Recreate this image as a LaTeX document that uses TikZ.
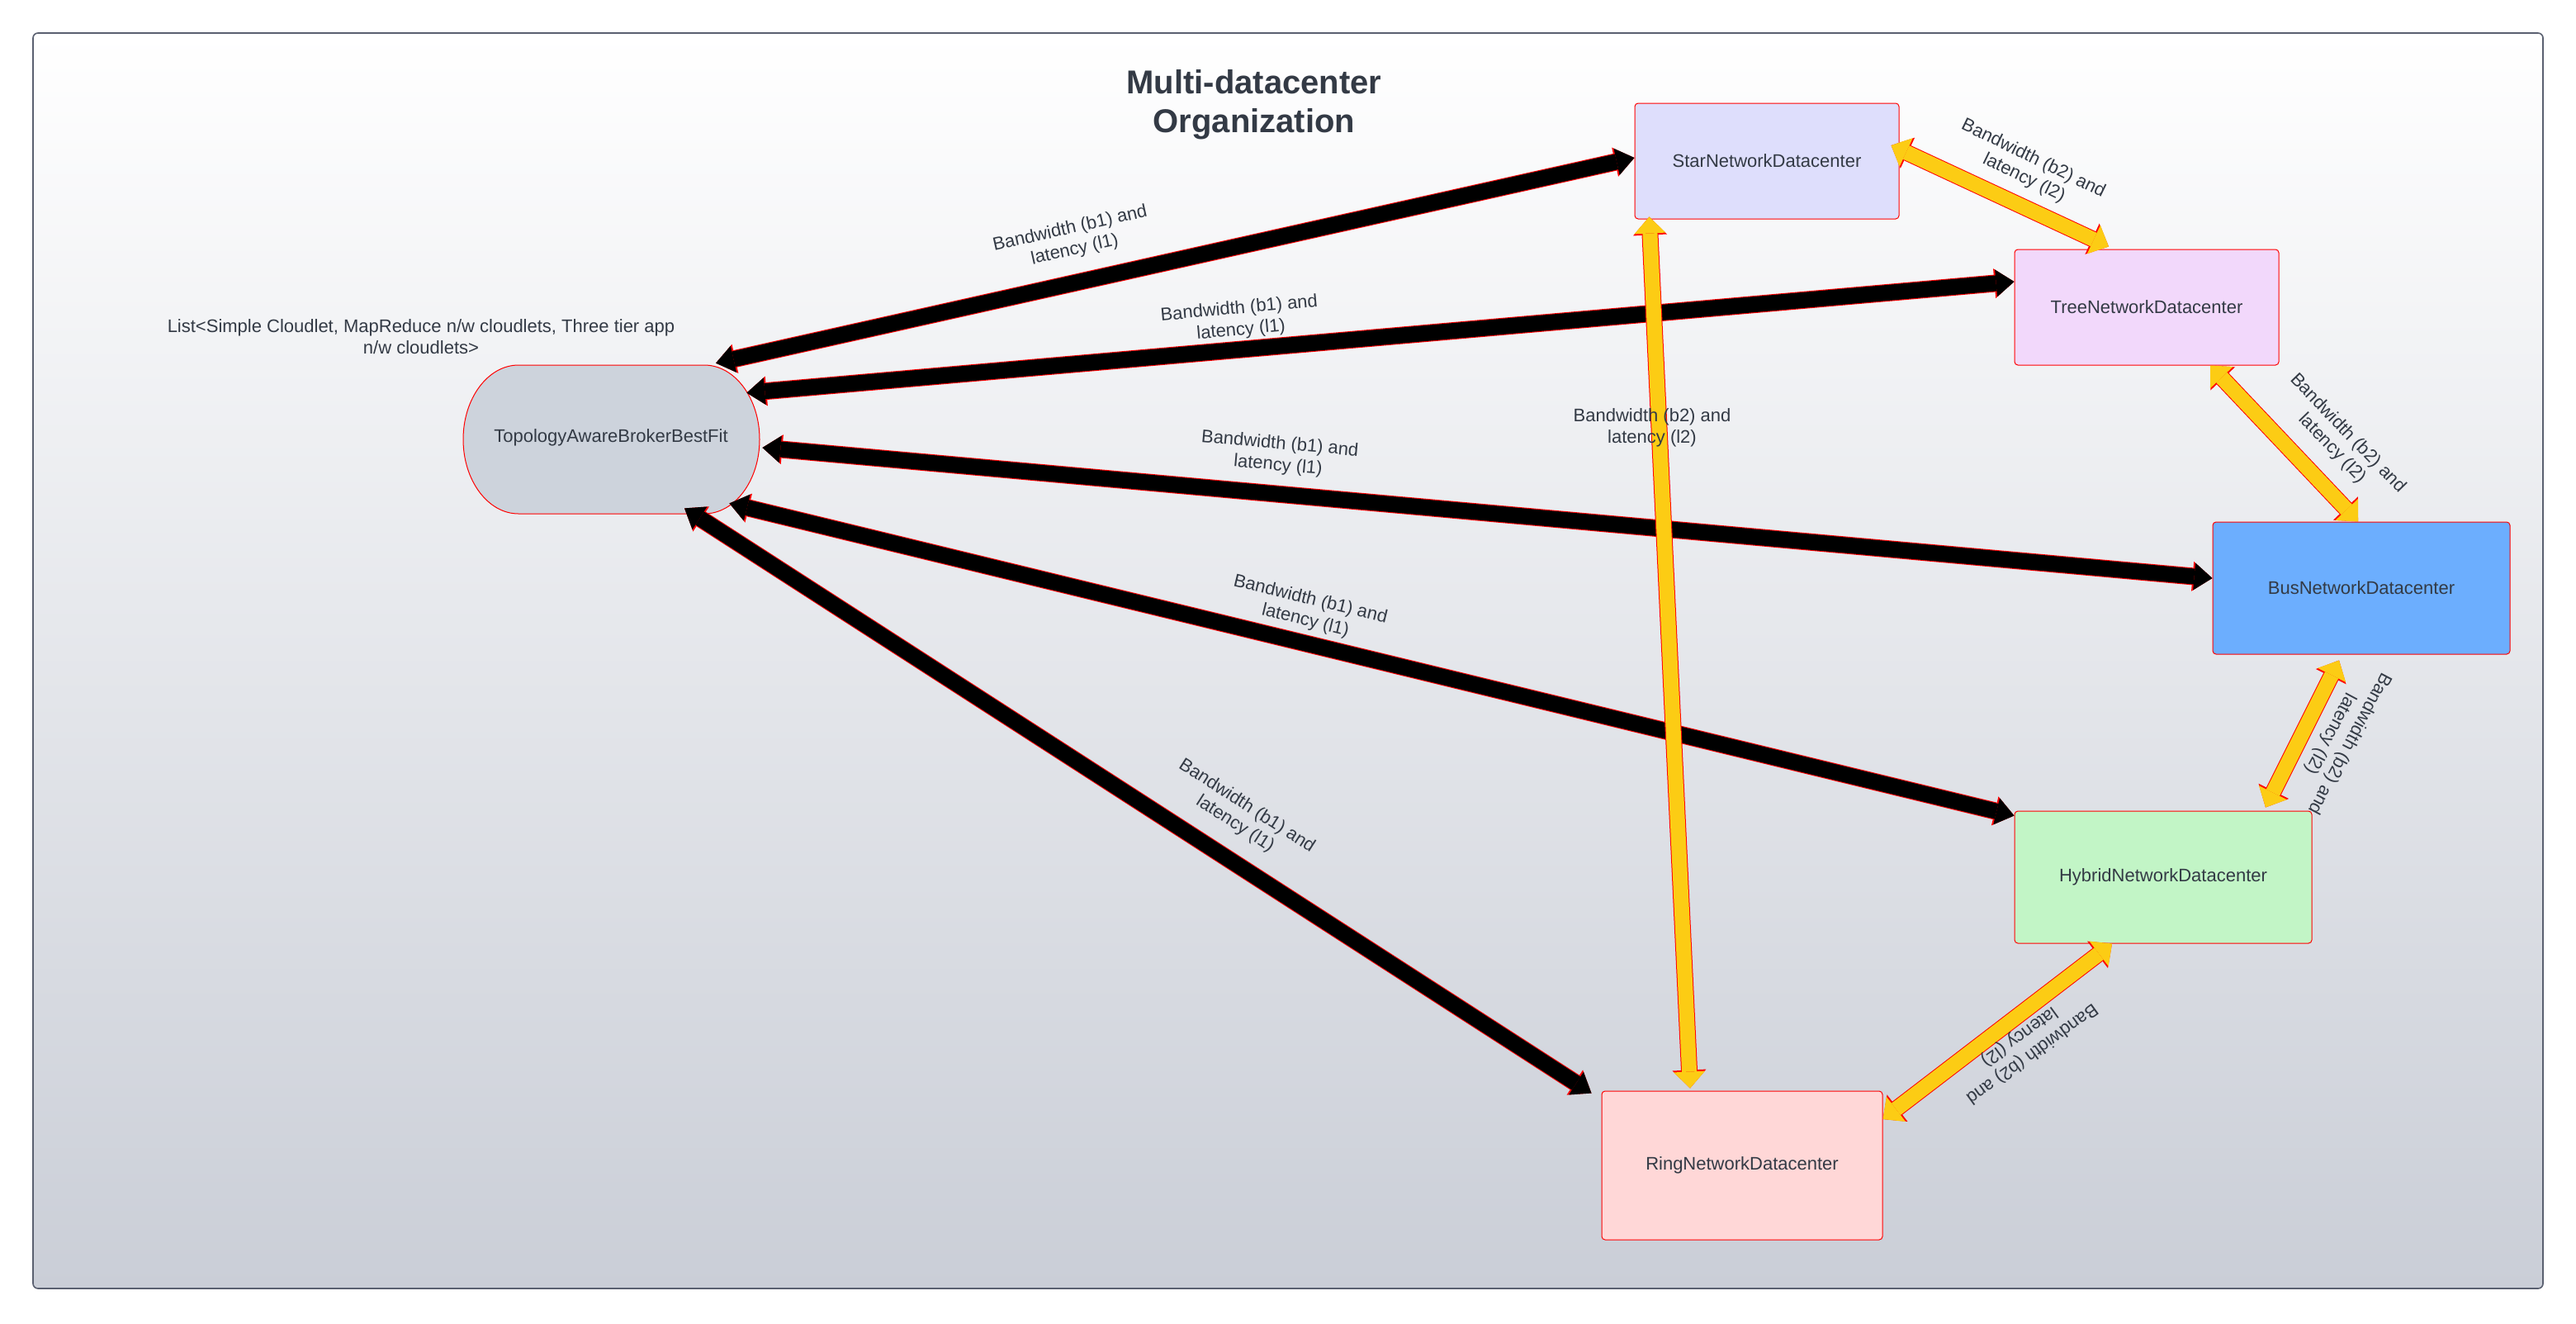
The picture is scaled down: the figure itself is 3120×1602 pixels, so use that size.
\documentclass[tikz,border=0pt]{standalone}
\usepackage{fontspec}
\setmainfont{Liberation Sans}
\usetikzlibrary{arrows.meta}

\definecolor{framegray}{HTML}{5A6070}
\definecolor{shadebot}{HTML}{CACED7}
\definecolor{txtgray}{HTML}{333A45}
\definecolor{brokerfill}{HTML}{CDD3DC}
\definecolor{starfill}{HTML}{DEDEFC}
\definecolor{treefill}{HTML}{F2D8FB}
\definecolor{busfill}{HTML}{6CAEFE}
\definecolor{hybridfill}{HTML}{C2F5C6}
\definecolor{ringfill}{HTML}{FFD7D7}
\definecolor{linkyellow}{HTML}{FCCC14}

\begin{document}
\begin{tikzpicture}[x=0.5pt, y=-0.5pt,
    font=\fontsize{11}{13}\selectfont,
    every node/.style={text=txtgray},
    dc/.style={draw=red, line width=0.5pt, rounded corners=2pt},
    lbl/.style={align=center},
    b1link/.style={draw=black, line width=9.5pt,
      {Triangle[width=16.5pt,length=11pt,line width=0pt]}-{Triangle[width=16.5pt,length=11pt,line width=0pt]},
      preaction={draw=red, line width=10.5pt,
        {Triangle[width=18pt,length=12pt,line width=0pt]}-{Triangle[width=18pt,length=12pt,line width=0pt]}}},
    b2link/.style={draw=linkyellow, line width=9pt,
      {Triangle[width=19pt,length=10pt,line width=0pt]}-{Triangle[width=19pt,length=10pt,line width=0pt]},
      preaction={draw=red, line width=10pt,
        {Triangle[width=20.5pt,length=11pt,line width=0pt]}-{Triangle[width=20.5pt,length=11pt,line width=0pt]}}}]
  \fill[white] (0,0) rectangle (3120,1602);
  \useasboundingbox (0,0) rectangle (3120,1602);
  \draw[framegray, line width=0.8pt, rounded corners=3pt, top color=white, bottom color=shadebot]
    (40,40) rectangle (3080,1560);

  \node[font=\bfseries\fontsize{20}{23.5}\selectfont, align=center] (title) at (1519,127)
    {Multi-datacenter\\Organization};
  \node[lbl] (cloudlets) at (510,408)
    {List<Simple Cloudlet, MapReduce n/w cloudlets, Three tier app\\n/w cloudlets>};

  % broker
  \draw[draw=red, fill=brokerfill, line width=0.5pt] (628,442) -- (853,442)
    arc[start angle=90, end angle=-90, x radius=33.5pt, y radius=45pt] -- (628,622)
    arc[start angle=270, end angle=90, x radius=33.5pt, y radius=45pt] -- cycle;
  \node[minimum width=180pt, minimum height=90pt] (broker) at (740,530) {TopologyAwareBrokerBestFit};

  % datacenters
  \node[dc, fill=starfill, minimum width=160pt, minimum height=70pt] (star) at (2140,195) {StarNetworkDatacenter};
  \node[dc, fill=treefill, minimum width=160pt, minimum height=70pt] (tree) at (2600,372) {TreeNetworkDatacenter};
  \node[dc, fill=busfill, minimum width=180pt, minimum height=80pt] (bus) at (2860,712) {BusNetworkDatacenter};
  \node[dc, fill=hybridfill, minimum width=180pt, minimum height=80pt] (hybrid) at (2620,1062) {HybridNetworkDatacenter};
  \node[dc, fill=ringfill, minimum width=170pt, minimum height=90pt] (ring) at (2110,1411) {RingNetworkDatacenter};

  % broker links
  \draw[b1link] ([xshift=63.5pt]broker.north) -- ([yshift=2pt]star.west);
  \draw[b1link] ([xshift=-8pt,yshift=-18pt]broker.north east) -- ([yshift=15.5pt]tree.west);
  \draw[b1link] ([xshift=1.5pt,yshift=-6pt]broker.east) -- ([yshift=6pt]bus.west);
  \draw[b1link] ([xshift=-18.5pt,yshift=5.5pt]broker.south east) -- ([yshift=-3pt]hybrid.north west);
  \draw[b1link] ([xshift=44.5pt,yshift=2.5pt]broker.south) -- ([xshift=-6pt,yshift=-1.5pt]ring.north west);

  % datacenter links
  \draw[b2link] ([xshift=-5pt,yshift=9.5pt]star.east) -- ([xshift=-23pt,yshift=1.5pt]tree.north);
  \draw[b2link] ([xshift=38.5pt]tree.south) -- ([xshift=-2pt]bus.north);
  \draw[b2link] ([xshift=-13.5pt,yshift=-3.5pt]bus.south) -- ([xshift=62pt,yshift=2pt]hybrid.north);
  \draw[b2link] ([xshift=-31pt]hybrid.south) -- ([yshift=28pt]ring.east);
  \draw[b2link] ([xshift=9pt,yshift=1.5pt]star.south west) -- ([xshift=-31.5pt,yshift=1.5pt]ring.north);

  % labels
  \node[lbl, rotate=12.7] (l1) at (1299,290) {Bandwidth (b1) and\\latency (l1)};
  \node[lbl, rotate=5.2] (l2) at (1502,387) {Bandwidth (b1) and\\latency (l1)};
  \node[lbl, rotate=-5.1] (l3) at (1549,551) {Bandwidth (b1) and\\latency (l1)};
  \node[lbl, rotate=-13.6] (l4) at (1584,739) {Bandwidth (b1) and\\latency (l1)};
  \node[lbl, rotate=-32.7] (l5) at (1503,987) {Bandwidth (b1) and\\latency (l1)};
  \node[lbl, rotate=-26] (l6) at (2457,204) {Bandwidth (b2) and\\latency (l2)};
  \node[lbl, rotate=-46] (l7) at (2834,534) {Bandwidth (b2) and\\latency (l2)};
  \node[lbl, rotate=-118] (l8) at (2834,894) {Bandwidth (b2) and\\latency (l2)};
  \node[lbl, rotate=-144] (l9) at (2453,1265) {Bandwidth (b2) and\\latency (l2)};
  \node[lbl] (l10) at (2001,518) {Bandwidth (b2) and\\latency (l2)};
\end{tikzpicture}
\end{document}
